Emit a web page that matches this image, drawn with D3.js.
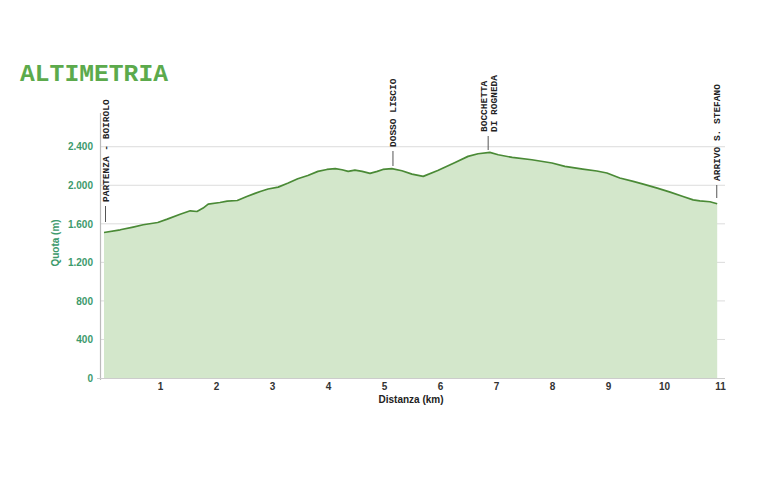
<!DOCTYPE html>
<html><head><meta charset="utf-8">
<script src="https://cdn.jsdelivr.net/npm/d3@7/dist/d3.min.js"></script>
<style>body{margin:0;background:#fff}</style>
</head><body>
<svg id="c" width="765" height="481"></svg>
<script>
const distanceKm = [0.00,0.29,0.52,0.70,0.96,1.13,1.36,1.54,1.66,1.77,1.86,2.07,2.20,2.38,2.55,2.79,2.93,3.11,3.29,3.46,3.64,3.82,3.98,4.13,4.25,4.36,4.48,4.61,4.75,4.88,4.98,5.14,5.32,5.50,5.70,5.96,6.27,6.50,6.68,6.89,7.04,7.29,7.64,8.00,8.23,8.55,8.80,8.98,9.21,9.45,9.63,9.88,10.11,10.34,10.52,10.64,10.82,10.95];
const elevationM = [1510,1538,1566,1590,1614,1649,1700,1735,1728,1763,1805,1821,1836,1842,1884,1936,1961,1981,2023,2068,2102,2144,2164,2172,2161,2144,2158,2144,2123,2144,2164,2172,2151,2116,2092,2154,2237,2300,2327,2341,2317,2289,2265,2231,2196,2168,2148,2127,2075,2040,2012,1971,1929,1884,1849,1839,1829,1808];
const yTicks = [0,400,800,1200,1600,2000,2400];
const yTickLabels = ["0","400","800","1.200","1.600","2.000","2.400"];
const xTicks = [1,2,3,4,5,6,7,8,9,10,11];
const waypointKm = [0.0, 5.16, 6.86, 10.96];
const waypointNames = [["PARTENZA - BOIROLO"],["DOSSO LISCIO"],["BOCCHETTA","DI ROGNEDA"],["ARRIVO S. STEFANO"]];
const waypointTextBottom = [202, 147, 132, 181];
const waypointLineTop = [206, 151, 136, 185];
const waypointLineBottom = [222, 166, 150, 198];

const svg = d3.select("#c");
const x = d3.scaleLinear().domain([0, 11]).range([104, 720]);
const y = d3.scaleLinear().domain([0, 2750]).range([378, 113]);
const data = distanceKm.map((d,i)=>({d, e: elevationM[i]}));
const mono = "'Liberation Mono', 'DejaVu Sans Mono', monospace";

// title
svg.append("text").attr("x",20).attr("y",81).text("ALTIMETRIA")
  .attr("font-family",mono)
  .attr("font-weight","bold").attr("font-size",24).attr("fill","#5caa4c")
  .attr("textLength",148).attr("lengthAdjust","spacingAndGlyphs");

// gridlines
svg.append("g").selectAll("line").data(yTicks.slice(1)).join("line")
  .attr("x1",100).attr("x2",725).attr("y1",d=>y(d)).attr("y2",d=>y(d))
  .attr("stroke","#dcdcdc").attr("stroke-width",1);

// area + line
svg.append("path").datum(data)
  .attr("d", d3.area().x(p=>x(p.d)).y0(y(0)).y1(p=>y(p.e)))
  .attr("fill","#d3e7cb");
svg.append("path").datum(data)
  .attr("d", d3.line().x(p=>x(p.d)).y(p=>y(p.e)))
  .attr("fill","none").attr("stroke","#4a8a36").attr("stroke-width",1.7).attr("stroke-linejoin","round");

// axes lines
svg.append("line").attr("x1",100.5).attr("x2",100.5).attr("y1",y(2750)).attr("y2",y(0)+2)
  .attr("stroke","#bbb").attr("stroke-width",1.2);
svg.append("line").attr("x1",97).attr("x2",725).attr("y1",y(0)+0.5).attr("y2",y(0)+0.5)
  .attr("stroke","#ccc").attr("stroke-width",1.2);

// y axis
const yAxis = d3.axisLeft(y).tickValues(yTicks).tickFormat((d,i)=>yTickLabels[i]).tickSize(0).tickPadding(7);
const gy = svg.append("g").attr("transform","translate(100,0)").call(yAxis);
gy.select(".domain").remove();
gy.selectAll("text").attr("font-family","Arial, 'Liberation Sans', sans-serif").attr("font-weight","bold")
  .attr("font-size",10).attr("fill","#3d9a6c");

// x axis
const xAxis = d3.axisBottom(x).tickValues(xTicks).tickFormat(d3.format("d")).tickSize(0).tickPadding(5);
const gx = svg.append("g").attr("transform",`translate(0,${y(0)})`).call(xAxis);
gx.select(".domain").remove();
gx.selectAll("text").attr("font-family","Arial, 'Liberation Sans', sans-serif").attr("font-weight","bold")
  .attr("font-size",10).attr("fill","#333");

// axis titles
svg.append("text").attr("x",411).attr("y",403).attr("text-anchor","middle").text("Distanza (km)")
  .attr("font-family","Arial, 'Liberation Sans', sans-serif").attr("font-weight","bold").attr("font-size",10).attr("fill","#222");
svg.append("text").attr("transform","translate(59,243) rotate(-90)").attr("text-anchor","middle").text("Quota (m)")
  .attr("font-family","Arial, 'Liberation Sans', sans-serif").attr("font-weight","bold").attr("font-size",10).attr("fill","#3d9a6c");

// waypoints
waypointKm.forEach((k,i)=>{
  const px = x(k) + (i===0 ? 1.5 : 0) - (i===3 ? 1 : 0);
  svg.append("line").attr("x1",px).attr("x2",px).attr("y1",waypointLineTop[i]).attr("y2",waypointLineBottom[i])
    .attr("stroke","#555").attr("stroke-width",1);
  const lines = waypointNames[i];
  lines.forEach((t,j)=>{
    const off = (j - (lines.length-1)/2) * 10;
    svg.append("text").attr("transform",`translate(${px + off + 3.5},${waypointTextBottom[i]}) rotate(-90)`)
      .text(t).attr("font-family",mono).attr("font-weight","bold")
      .attr("font-size",9.5).attr("fill","#222");
  });
});
</script>
</body></html>
